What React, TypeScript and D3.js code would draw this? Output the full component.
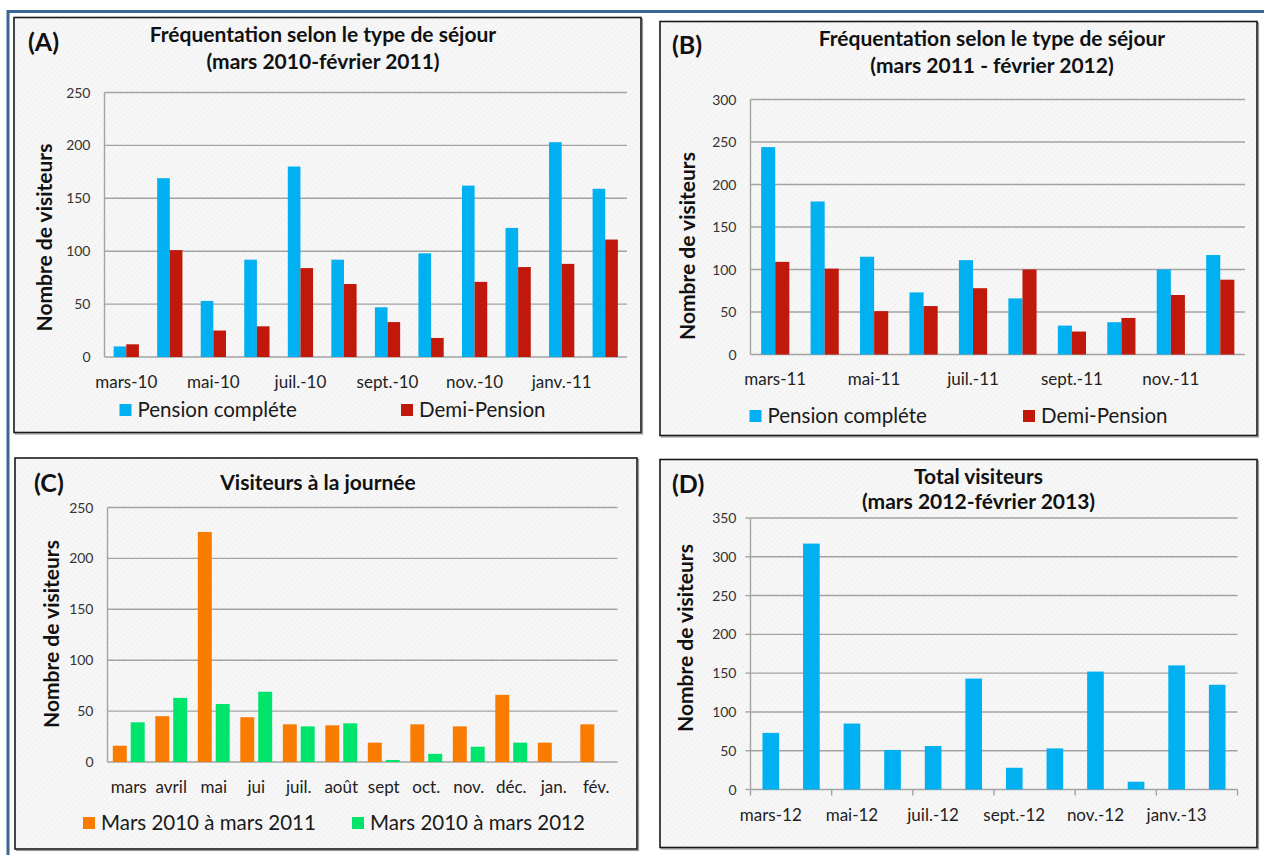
import React from "react";
import * as d3 from "d3";

// ---------- DATA ----------
const monthsA = ["mars-10", "avr.-10", "mai-10", "juin-10", "juil.-10", "août-10", "sept.-10", "oct.-10", "nov.-10", "déc.-10", "janv.-11", "févr.-11"];
const pensionA = [10, 169, 53, 92, 180, 92, 47, 98, 162, 122, 203, 159];
const demiA = [12, 101, 25, 29, 84, 69, 33, 18, 71, 85, 88, 111];
const ticksA = [0, 50, 100, 150, 200, 250];

const monthsB = ["mars-11", "avr.-11", "mai-11", "juin-11", "juil.-11", "août-11", "sept.-11", "oct.-11", "nov.-11", "déc.-11"];
const pensionB = [244, 180, 115, 73, 111, 66, 34, 38, 100, 117];
const demiB = [109, 101, 51, 57, 78, 100, 27, 43, 70, 88];
const ticksB = [0, 50, 100, 150, 200, 250, 300];

const monthsC = ["mars", "avril", "mai", "jui", "juil.", "août", "sept", "oct.", "nov.", "déc.", "jan.", "fév."];
const daily2011 = [16, 45, 226, 44, 37, 36, 19, 37, 35, 66, 19, 37];
const daily2012: (number | null)[] = [39, 63, 57, 69, 35, 38, 2, 8, 15, 19, null, null];
const ticksC = [0, 50, 100, 150, 200, 250];

const monthsD = ["mars-12", "avr.-12", "mai-12", "juin-12", "juil.-12", "août-12", "sept.-12", "oct.-12", "nov.-12", "déc.-12", "janv.-13", "févr.-13"];
const totalD = [73, 317, 85, 51, 56, 143, 28, 53, 152, 10, 160, 135];
const ticksD = [0, 50, 100, 150, 200, 250, 300, 350];

const legendPension = "Pension compléte";
const legendDemi = "Demi-Pension";
const legend2011 = "Mars 2010 à mars 2011";
const legend2012 = "Mars 2010 à mars 2012";
const yTitle = "Nombre de visiteurs";

// ---------- STYLE ----------
const FONT = "Lato, 'Open Sans', sans-serif";
const BLUE = "#00B0F0";
const RED = "#C0180A";
const ORANGE = "#F97B00";
const GREEN = "#00E46C";
const GRID = "#A3A3A3";

type Series = { name: string; values: (number | null)[]; color: string };
type LegendItem = { name: string; color: string; x: number };

type PanelProps = {
  frame: { x: number; y: number; w: number; h: number };
  tag: string;
  tagX: number;
  tagY: number;
  titles: string[];
  titleX: number;
  titleYs: number[];
  plot: { left: number; right: number; top: number; bottom: number };
  ticks: number[];
  categories: string[];
  series: Series[];
  labelStep: number;
  labelY: number;
  padding: number;
  innerPadding: number;
  legend: LegendItem[];
  legendY: number;
  yTitleX: number;
  yTitleY: number;
  axisTicks?: boolean;
};

function Panel(p: PanelProps) {
  const { plot } = p;
  const y = d3
    .scaleLinear()
    .domain([0, d3.max(p.ticks) as number])
    .range([plot.bottom, plot.top]);
  const step = (plot.right - plot.left) / p.categories.length;
  const x0 = d3
    .scaleBand<string>()
    .domain(p.categories)
    .range([plot.left, plot.right])
    .paddingInner(p.padding)
    .paddingOuter(p.padding / 2);
  const x1 = d3
    .scaleBand<string>()
    .domain(p.series.map((s) => s.name))
    .range([0, x0.bandwidth()])
    .paddingInner(p.innerPadding);
  const xCenter = (c: string) => (x0(c) as number) + x0.bandwidth() / 2;

  return (
    <g>
      <rect x={p.frame.x + 1.5} y={p.frame.y + 1.5} width={p.frame.w} height={p.frame.h} fill="none" stroke="#9a9a9a" strokeWidth={1.2} />
      <rect x={p.frame.x} y={p.frame.y} width={p.frame.w} height={p.frame.h} fill="url(#hatch)" stroke="#1a1a1a" strokeWidth={1.6} />
      <text x={p.tagX} y={p.tagY} fontFamily={FONT} fontWeight="bold" fontSize={25} fill="#111">
        {p.tag}
      </text>
      {p.titles.map((t, i) => (
        <text key={t} x={p.titleX} y={p.titleYs[i]} fontFamily={FONT} fontWeight="bold" fontSize={21} textAnchor="middle" fill="#111">
          {t}
        </text>
      ))}
      {/* gridlines */}
      {p.ticks.map((t) => (
        <line key={"g" + t} x1={plot.left} x2={plot.right} y1={y(t)} y2={y(t)} stroke={GRID} strokeWidth={1.4} />
      ))}
      <line x1={plot.left} x2={plot.left} y1={plot.top} y2={plot.bottom} stroke={GRID} strokeWidth={1.4} />
      {p.axisTicks &&
        p.ticks.map((t) => (
          <line key={"yt" + t} x1={plot.left - 5} x2={plot.left} y1={y(t)} y2={y(t)} stroke={GRID} strokeWidth={1.4} />
        ))}
      {p.axisTicks &&
        d3.range(0, p.categories.length + 1, p.labelStep).map((i) => (
          <line key={"xt" + i} x1={plot.left + i * step} x2={plot.left + i * step} y1={plot.bottom} y2={plot.bottom + 6} stroke={GRID} strokeWidth={1.4} />
        ))}
      {/* y tick labels */}
      {p.ticks.map((t) => (
        <text key={"yl" + t} x={plot.left - 14} y={y(t)} dy="0.36em" textAnchor="end" fontFamily={FONT} fontSize={14} fill="#333">
          {t}
        </text>
      ))}
      {/* bars */}
      {p.categories.map((c, i) =>
        p.series.map((s) => {
          const v = s.values[i];
          if (v == null) return null;
          return (
            <rect
              key={c + s.name}
              x={(x0(c) as number) + (x1(s.name) as number)}
              y={y(v)}
              width={x1.bandwidth()}
              height={y(0) - y(v)}
              fill={s.color}
            />
          );
        })
      )}
      {/* x labels */}
      {p.categories.map((c, i) =>
        i % p.labelStep === 0 ? (
          <text key={"xl" + c} x={xCenter(c)} y={p.labelY} textAnchor="middle" fontFamily={FONT} fontSize={17} fill="#222">
            {c}
          </text>
        ) : null
      )}
      {/* y title */}
      <text
        transform={`translate(${p.yTitleX},${p.yTitleY}) rotate(-90)`}
        textAnchor="middle"
        dy="0.35em"
        fontFamily={FONT}
        fontWeight="bold"
        fontSize={21}
        fill="#111"
      >
        {yTitle}
      </text>
      {/* legend */}
      {p.legend.map((l) => (
        <g key={l.name}>
          <rect x={l.x} y={p.legendY - 13} width={12} height={12} fill={l.color} />
          <text x={l.x + 18} y={p.legendY} fontFamily={FONT} fontSize={20.5} fill="#1a1a1a">
            {l.name}
          </text>
        </g>
      ))}
    </g>
  );
}

export default function App() {
  return (
    <svg width={1264} height={855} style={{ position: "absolute", left: 0, top: 0, background: "#fff" }}>
      <defs>
        <pattern id="hatch" width="4" height="4" patternUnits="userSpaceOnUse" patternTransform="rotate(45)">
          <rect width="4" height="4" fill="#f7f7f7" />
          <line x1="0" y1="0" x2="0" y2="4" stroke="#ececec" strokeWidth="1.2" />
        </pattern>
      </defs>
      <rect x={0} y={0} width={1264} height={855} fill="#fff" />
      <rect x={8} y={11.5} width={1300} height={900} fill="none" stroke="#3A6694" strokeWidth={3} />

      <Panel
        frame={{ x: 14, y: 17.5, w: 627, h: 415 }}
        tag="(A)"
        tagX={28}
        tagY={51}
        titles={["Fréquentation selon le type de séjour", "(mars 2010-février 2011)"]}
        titleX={323}
        titleYs={[42, 68.5]}
        plot={{ left: 104.5, right: 627, top: 92.5, bottom: 357 }}
        ticks={ticksA}
        categories={monthsA}
        series={[
          { name: legendPension, values: pensionA, color: BLUE },
          { name: legendDemi, values: demiA, color: RED },
        ]}
        labelStep={2}
        labelY={388}
        padding={0.42}
        innerPadding={0}
        legend={[
          { name: legendPension, color: BLUE, x: 119.5 },
          { name: legendDemi, color: RED, x: 401 },
        ]}
        legendY={417}
        yTitleX={45}
        yTitleY={237.5}
      />

      <Panel
        frame={{ x: 660, y: 21.5, w: 597, h: 414 }}
        tag="(B)"
        tagX={672}
        tagY={53.5}
        titles={["Fréquentation selon le type de séjour", "(mars 2011 - février 2012)"]}
        titleX={992}
        titleYs={[46, 73]}
        plot={{ left: 750.5, right: 1245, top: 99.5, bottom: 354.5 }}
        ticks={ticksB}
        categories={monthsB}
        series={[
          { name: legendPension, values: pensionB, color: BLUE },
          { name: legendDemi, values: demiB, color: RED },
        ]}
        labelStep={2}
        labelY={385}
        padding={0.43}
        innerPadding={0}
        legend={[
          { name: legendPension, color: BLUE, x: 749.5 },
          { name: legendDemi, color: RED, x: 1023 },
        ]}
        legendY={423}
        yTitleX={688}
        yTitleY={246}
      />

      <Panel
        frame={{ x: 15, y: 458, w: 622, h: 391 }}
        tag="(C)"
        tagX={34}
        tagY={491.5}
        titles={["Visiteurs à la journée"]}
        titleX={318}
        titleYs={[490]}
        plot={{ left: 107.5, right: 617.5, top: 507.5, bottom: 762 }}
        ticks={ticksC}
        categories={monthsC}
        series={[
          { name: legend2011, values: daily2011, color: ORANGE },
          { name: legend2012, values: daily2012, color: GREEN },
        ]}
        labelStep={1}
        labelY={792.5}
        padding={0.25}
        innerPadding={0.22}
        legend={[
          { name: legend2011, color: ORANGE, x: 83 },
          { name: legend2012, color: GREEN, x: 352 },
        ]}
        legendY={830}
        yTitleX={51.5}
        yTitleY={634}
      />

      <Panel
        frame={{ x: 660, y: 459.5, w: 597, h: 388 }}
        tag="(D)"
        tagX={672}
        tagY={493}
        titles={["Total visiteurs", "(mars 2012-février 2013)"]}
        titleX={978.5}
        titleYs={[483.5, 509]}
        plot={{ left: 750.5, right: 1237.5, top: 518, bottom: 789.5 }}
        ticks={ticksD}
        categories={monthsD}
        series={[{ name: "Total", values: totalD, color: BLUE }]}
        labelStep={2}
        labelY={821}
        padding={0.59}
        innerPadding={0}
        legend={[]}
        legendY={0}
        yTitleX={686}
        yTitleY={638}
        axisTicks
      />
    </svg>
  );
}
